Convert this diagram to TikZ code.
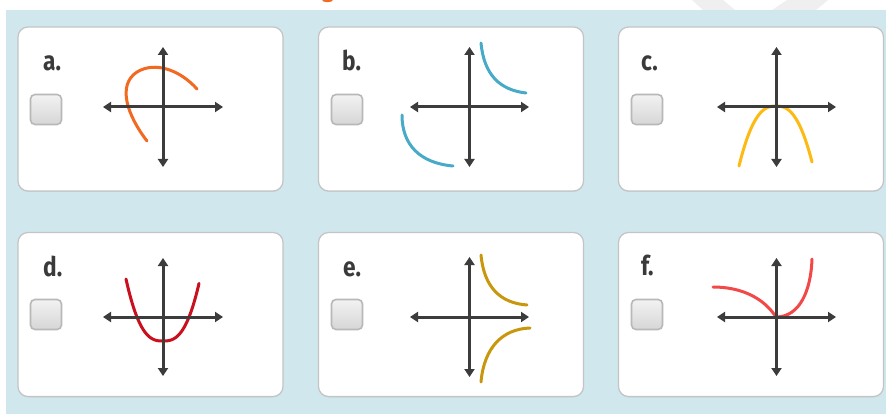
\documentclass[tikz,border=0pt]{standalone}
\usepackage{fontspec}
\setsansfont{Fira Sans}
\usetikzlibrary{arrows.meta,shadings,shadows}

\definecolor{bgblue}{HTML}{D0E7EE}
\definecolor{cardline}{HTML}{C4C4C4}
\definecolor{axisgrey}{HTML}{3C3C3C}
\definecolor{labelgrey}{HTML}{3A3A3A}
\definecolor{boxline}{HTML}{B8B8B8}
\definecolor{curveA}{HTML}{F26A21}
\definecolor{curveB}{HTML}{47ABC8}
\definecolor{curveC}{HTML}{FDBA12}
\definecolor{curveD}{HTML}{C8101E}
\definecolor{curveE}{HTML}{C9970D}
\definecolor{curveF}{HTML}{F24848}
\definecolor{markgrey}{HTML}{EFEFEF}

\tikzset{
  card/.style={draw=cardline, line width=1.2pt, fill=white, rounded corners=10pt,
    minimum width=265pt, minimum height=164pt, inner sep=0pt,
    drop shadow={shadow xshift=0pt, shadow yshift=-1pt, opacity=0.12}},
  chkbox/.style={draw=boxline, line width=1.6pt, rounded corners=4.5pt,
    top color=white!95!black, bottom color=white!84!black,
    minimum width=31pt, minimum height=30pt, inner sep=0pt},
  letter/.style={anchor=base west, inner sep=0pt, text=labelgrey,
    font=\sffamily\bfseries\fontsize{27}{27}\selectfont},
  axis/.style={draw=axisgrey, line width=3pt,
    {Triangle[length=8pt,width=10pt]}-{Triangle[length=8pt,width=10pt]}},
  graph/.style={line width=3pt, line cap=round},
}

% axes with four arrow ends around a centre point
\newcommand\plotaxes[5]{%
  \coordinate (#1o) at (#2,#3);
  \coordinate (#1w) at (#2-#4,#3);
  \coordinate (#1e) at (#2+#4,#3);
  \coordinate (#1n) at (#2,#3-#5);
  \coordinate (#1s) at (#2,#3+#5);
  \draw[axis] (#1w) -- (#1e);
  \draw[axis] (#1n) -- (#1s);
}
\newcommand\lettertag[3]{\node[letter] (#1) at (#2) {\scalebox{0.84}[1]{#3}};}

\begin{document}
\begin{tikzpicture}[x=1pt,y=-1pt]
  \useasboundingbox (0,0) rectangle (886,414);
  \fill[white] (0,0) rectangle (886,414);
  \fill[bgblue] (6,10) rectangle (886,414);
  % faint watermark strokes and clipped heading in the white strip
  \fill[markgrey] (692,0) -- (723,0) -- (735,10) -- (703,10) -- cycle;
  \fill[markgrey] (787,0) -- (828,0) -- (816,10) -- (772,10) -- cycle;
  \fill[curveA] (322,0) arc[start angle=180, end angle=360, x radius=5.5, y radius=-2.2] -- cycle;

  % cards
  \node[card] (cardA) at (150.5,109) {};
  \node[card] (cardB) at (451,109) {};
  \node[card] (cardC) at (751,109) {};
  \node[card] (cardD) at (150.5,314.5) {};
  \node[card] (cardE) at (451,314.5) {};
  \node[card] (cardF) at (751,314.5) {};

  % letters
  \lettertag{labA}{43,71}{a.}
  \lettertag{labB}{342,71}{b.}
  \lettertag{labC}{641,71}{c.}
  \lettertag{labD}{43,276}{d.}
  \lettertag{labE}{343,276}{e.}
  \lettertag{labF}{641,275}{f.}

  % check boxes
  \node[chkbox] (boxA) at (46,109.5) {};
  \node[chkbox] (boxB) at (347,109.5) {};
  \node[chkbox] (boxC) at (647,109.5) {};
  \node[chkbox] (boxD) at (46,314.5) {};
  \node[chkbox] (boxE) at (347,314.5) {};
  \node[chkbox] (boxF) at (647,314.5) {};

  % graphs drawn under the axes
  \draw[graph, curveA] (147,141) .. controls (127,115) and (117,85) .. (137,72)
                      .. controls (155,61) and (180,70) .. (197,89);
  \draw[graph, curveB] (481,43) .. controls (484,75) and (500,90) .. (526,93);
  \draw[graph, curveB] (402,115) .. controls (402,145) and (420,163) .. (453,166);
  \draw[graph, curveC] plot[domain=-37:36, samples=80]
      ({776+\x},{106+60*(abs(\x)/37+0.0001)^2.5});
  \draw[graph, curveD] plot[domain=-37:36, samples=80]
      ({163+\x},{341-62*(abs(\x)/37+0.0001)^2.7});
  \draw[graph, curveE] (481,255) .. controls (484,287) and (500,303) .. (527,305);
  \draw[graph, curveE] (481,382) .. controls (484,348) and (502,329) .. (530,328);
  \draw[graph, curveF] (713,287) .. controls (740,287) and (763,297) .. (776,317)
                      .. controls (800,317) and (811,290) .. (812,259);

  % axes
  \plotaxes{axA}{163}{107}{60}{60}
  \plotaxes{axB}{469.5}{107}{59.5}{60}
  \plotaxes{axC}{776.5}{107}{59.5}{60}
  \plotaxes{axD}{163}{317}{60}{59}
  \plotaxes{axE}{469.5}{317}{59.5}{60}
  \plotaxes{axF}{776.5}{317}{59.5}{59}
\end{tikzpicture}
\end{document}
